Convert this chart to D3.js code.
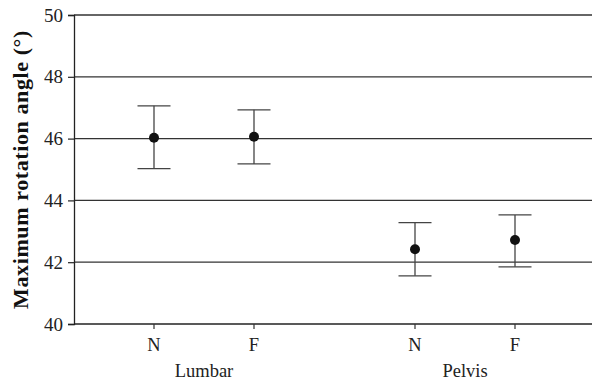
<!DOCTYPE html>
<html>
<head>
<meta charset="utf-8">
<script src="https://cdn.jsdelivr.net/npm/d3@7"></script>
<style>
  body { margin: 0; background: #fff; }
  svg { display: block; }
</style>
</head>
<body>
<div id="chart"></div>
<script>
const groups = ["Lumbar", "Pelvis"];
const conditions = ["N", "F"];
const means = [46.03, 46.06, 42.42, 42.72];
const upper = [47.06, 46.93, 43.28, 43.53];
const lower = [45.03, 45.18, 41.56, 41.85];
const yTicks = [40, 42, 44, 46, 48, 50];

const width = 592, height = 383;
const margin = { top: 15, right: 0, bottom: 59, left: 74 };
const innerW = width - margin.left - margin.right;
const innerH = height - margin.top - margin.bottom;

const svg = d3.select("#chart").append("svg")
    .attr("width", width)
    .attr("height", height);

const g = svg.append("g").attr("transform", `translate(${margin.left},${margin.top})`);

const y = d3.scaleLinear().domain([40, 50]).range([innerH, 0]);

const points = [];
groups.forEach((grp, gi) => conditions.forEach((c, ci) => {
    const i = gi * conditions.length + ci;
    points.push({ group: grp, cond: c, mean: means[i], hi: upper[i], lo: lower[i] });
}));

// group centre positions + offset for each condition
const xGroup = d3.scalePoint().domain(groups).range([130, 391]);
const xInner = d3.scalePoint().domain(conditions).range([-50, 50]);
const xPos = d => xGroup(d.group) + xInner(d.cond);

const serif = "'Liberation Serif', 'Times New Roman', serif";

// gridlines
g.selectAll(".grid").data(yTicks.filter(t => t > 40)).enter().append("line")
    .attr("x1", 0).attr("x2", innerW)
    .attr("y1", d => y(d)).attr("y2", d => y(d))
    .attr("stroke", "#333").attr("stroke-width", 1.3);

// y axis
const yAxis = g.append("g").call(d3.axisLeft(y).tickValues(yTicks).tickSize(6).tickPadding(5));
yAxis.attr("font-family", null).attr("font-size", null);
yAxis.select(".domain").attr("stroke", "#222").attr("stroke-width", 1.3);
yAxis.selectAll(".tick line").attr("stroke", "#222").attr("stroke-width", 1.2);
yAxis.selectAll("text").attr("fill", "#222")
    .attr("font-family", serif).attr("font-size", 19);

// x axis line
g.append("line").attr("x1", 0).attr("x2", innerW).attr("y1", innerH).attr("y2", innerH)
    .attr("stroke", "#222").attr("stroke-width", 1.3);

// x ticks
g.selectAll(".xtick").data(points).enter().append("line")
    .attr("x1", xPos).attr("x2", xPos)
    .attr("y1", innerH).attr("y2", innerH + 5)
    .attr("stroke", "#333").attr("stroke-width", 1.2);

g.selectAll(".xlab").data(points).enter().append("text")
    .attr("x", xPos).attr("y", innerH + 27)
    .attr("text-anchor", "middle")
    .attr("fill", "#222")
    .attr("font-family", serif).attr("font-size", 18.5)
    .text(d => d.cond);

// group labels
g.selectAll(".glab").data(groups).enter().append("text")
    .attr("x", d => xGroup(d))
    .attr("y", innerH + 53)
    .attr("text-anchor", "middle")
    .attr("fill", "#222")
    .attr("font-family", serif).attr("font-size", 18.5)
    .text(d => d);

// error bars
const capW = 16.5;
g.selectAll(".ebar").data(points).enter().append("line")
    .attr("x1", xPos).attr("x2", xPos)
    .attr("y1", d => y(d.hi)).attr("y2", d => y(d.lo))
    .attr("stroke", "#444").attr("stroke-width", 1.3);
g.selectAll(".capHi").data(points).enter().append("line")
    .attr("x1", d => xPos(d) - capW).attr("x2", d => xPos(d) + capW)
    .attr("y1", d => y(d.hi)).attr("y2", d => y(d.hi))
    .attr("stroke", "#444").attr("stroke-width", 1.3);
g.selectAll(".capLo").data(points).enter().append("line")
    .attr("x1", d => xPos(d) - capW).attr("x2", d => xPos(d) + capW)
    .attr("y1", d => y(d.lo)).attr("y2", d => y(d.lo))
    .attr("stroke", "#444").attr("stroke-width", 1.3);

// means
g.selectAll(".dot").data(points).enter().append("circle")
    .attr("cx", xPos).attr("cy", d => y(d.mean))
    .attr("r", 5)
    .attr("fill", "#111");

// y title
svg.append("text")
    .attr("transform", `translate(28,${margin.top + innerH / 2}) rotate(-90)`)
    .attr("text-anchor", "middle")
    .attr("fill", "#111")
    .attr("font-family", serif).attr("font-size", 22).attr("font-weight", "bold")
    .attr("letter-spacing", 0.6)
    .text("Maximum rotation angle (°)");
</script>
</body>
</html>
